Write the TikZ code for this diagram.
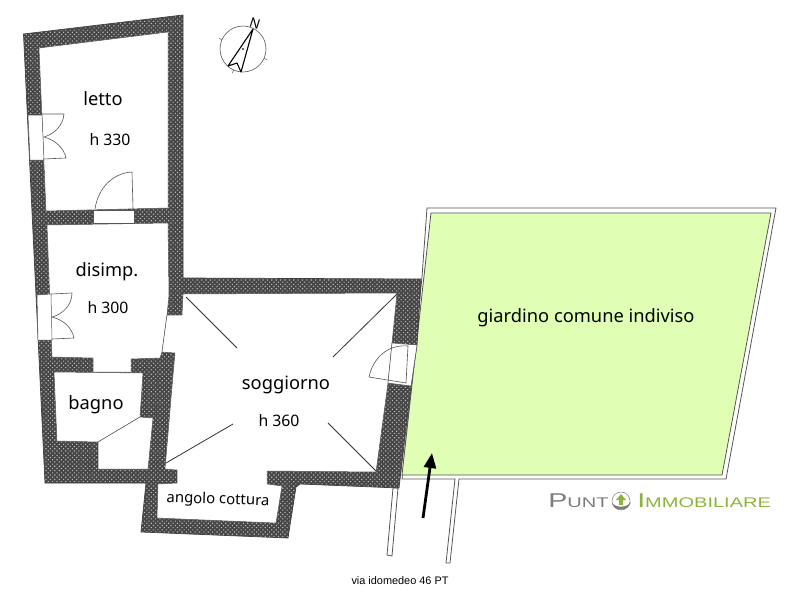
\documentclass[tikz,border=0pt]{standalone}
\usepackage{fontspec}
\setmainfont{Noto Sans}
\newfontfamily\viafont{Liberation Sans}
\usepackage{tikz}
\usetikzlibrary{patterns.meta,arrows.meta}
\definecolor{wallgray}{RGB}{70,70,70}
\definecolor{wallspot}{RGB}{185,185,185}
\definecolor{gardengreen}{RGB}{224,255,181}
\definecolor{fixline}{RGB}{85,85,85}
\definecolor{logogray}{RGB}{125,125,125}
\definecolor{logogreen}{RGB}{140,180,60}
\tikzset{
  room/.style={fill=white,draw=fixline,line width=0.5pt},
  fixture/.style={draw=fixline,line width=0.6pt},
  cross/.style={draw=black!80,line width=0.8pt},
  label/.style={font=\fontsize{18.3}{18}\selectfont,inner sep=0pt},
  height/.style={font=\fontsize{15.8}{16}\selectfont,inner sep=0pt},
}
\begin{document}
\begin{tikzpicture}[x=1pt,y=-1pt]
\useasboundingbox (0,0) rectangle (800,600);
% garden
\draw[fixline,line width=0.8pt,fill=white] (422,277) -- (427,208) -- (776,208) -- (726,479) -- (459,479) -- (450,563) -- (446,563) -- (455,479) -- (402,479) -- cycle;
\draw[fill=gardengreen,draw=fixline,line width=0.8pt] (431,213) -- (771,213) -- (722,475) -- (402,475) -- cycle;
\draw[fixline,line width=0.8pt,fill=white] (393,488) -- (387,555) -- (392,556) -- (398,488) -- cycle;
% walls
\def\wallpath{(23.5,34) -- (183,15) -- (183,278) -- (421,279) -- (417,345) -- (411,386) -- (399,488) -- (300,484) -- (296,487) -- (288,538) -- (141,532) -- (146,483) -- (45,483) -- cycle}
\fill[wallgray] \wallpath;
\fill[pattern={Dots[distance=3.1pt,angle=45,radius=0.8pt]},pattern color=wallspot] \wallpath;
\draw[black!75,line width=0.7pt] \wallpath;
% rooms
\draw[room] (39,48) -- (168,32) -- (168,208) -- (46,211) -- cycle;
\draw[room] (47,225) -- (168,223) -- (169,295) -- (167,315) -- (162,352) -- (160,358) -- (131,359) -- (131,372) -- (93,372) -- (93,358) -- (52,357) -- cycle;
\draw[room] (183,294) -- (397,293) -- (392,343) -- (388,383) -- (376,472) -- (267,471) -- (267,484) -- (282,486) -- (276,523) -- (157,518) -- (158,484) -- (177,483) -- (177,470) -- (165,469) -- (173,375) -- (175,353) -- (162,352) -- (167,315) -- (182,315) -- cycle;
\draw[room] (54,372) -- (143,373) -- (140,417) -- (98,442) -- (57,441) -- cycle;
\draw[room] (140,417) -- (153,418) -- (148,469) -- (98,469) -- (98,442) -- cycle;
\draw[room] (93,210) rectangle (134,223);
\draw[fixture] (143,373) -- (173,374);
\draw[fixture,densely dashed] (158,373) -- (155,418);
% windows and doors
\draw[room] (28,115) -- (42,115) -- (44,160) -- (30,160) -- cycle;
\draw[room] (37,295) -- (51,294) -- (52,340) -- (38,340) -- cycle;
\draw[room] (392,343) -- (417,345) -- (411,386) -- (388,383) -- cycle;
\draw[fixture] (42,114) -- (64,114) .. controls (63,126) and (54,134) .. (44,137) .. controls (55,140) and (64,148) .. (66,158) -- (43,159);
\draw[fixture] (51,294) -- (72,293) .. controls (72,305) and (63,314) .. (52,317) .. controls (64,320) and (72,328) .. (74,338) -- (52,339);
\draw[fixture] (95,209) .. controls (98,188) and (113,173) .. (132,172) -- (133,209);
\draw[fixture] (408,346) .. controls (388,344) and (373,358) .. (369,377) -- (406,383) -- cycle;
% ceiling marks
\draw[cross] (186,297) -- (237,348);
\draw[cross] (166,463) -- (233,424);
\draw[cross] (397,294) -- (333,357);
\draw[cross] (376,471) -- (328,423);
% compass
\draw[fixline,line width=0.6pt] (243,49) circle (23);
\foreach \a in {24,114,204}
{
\draw[fixline,line width=0.5pt] (243,49) ++(\a:23) -- ++(\a:3.5);
}
\draw[black,line width=1.1pt,line join=round] (253,29) -- (228,66) -- (237,63) -- (241,72) -- cycle;
\filldraw[black] (243,49) circle (0.6);
\node (north) [rotate=-18,inner sep=0pt,font=\fontsize{13.5}{14}\selectfont] at (255,23) {N};
% labels
\node (letto) [label] at (103,98.5) {letto};
\node (lettoh) [height] at (110,140) {h 330};
\node (disimp) [label] at (107,272) {disimp.};
\node (disimph) [height] at (108,308) {h 300};
\node (bagno) [label] at (96,405) {bagno};
\node (soggiorno) [label] at (286,385) {soggiorno};
\node (soggiornoh) [height] at (279,421) {h 360};
\node (cottura) [height,rotate=-2,font=\fontsize{14.9}{15}\selectfont] at (218,500) {angolo cottura};
\node (giardino) [label] at (586,318) {giardino comune indiviso};
\node (via) [inner sep=0pt,font=\viafont\fontsize{10.9}{11}\selectfont] at (400,581) {via idomedeo 46 PT};
% entrance arrow
\coordinate (arrowstart) at (423,518);
\coordinate (arrowend) at (432,453);
\draw[-{Triangle[length=15pt,width=12pt]},black,line width=2.8pt] (arrowstart) -- (arrowend);
% logo
\node (punt) [anchor=base west,inner sep=0pt,logogray,xscale=1.43,font=\viafont\fontsize{20}{20}\selectfont] at (548,507) {P\fontsize{14}{14}\selectfont UNT};
\node (immobiliare) [anchor=base west,inner sep=0pt,logogreen,xscale=1.43,font=\viafont\fontsize{20}{20}\selectfont] at (637,507) {I\fontsize{14}{14}\selectfont MMOBILIARE};
\draw[logogray,line width=0.5pt] (621,501) circle (9);
\fill[logogray] (612,503) .. controls (614,512) and (628,512) .. (631,502) .. controls (627,508) and (616,508) .. (612,503) -- cycle;
\fill[logogreen] (621,494) -- (626,500) -- (623,500) -- (623,505) -- (619,505) -- (619,500) -- (616,500) -- cycle;
\end{tikzpicture}
\end{document}
